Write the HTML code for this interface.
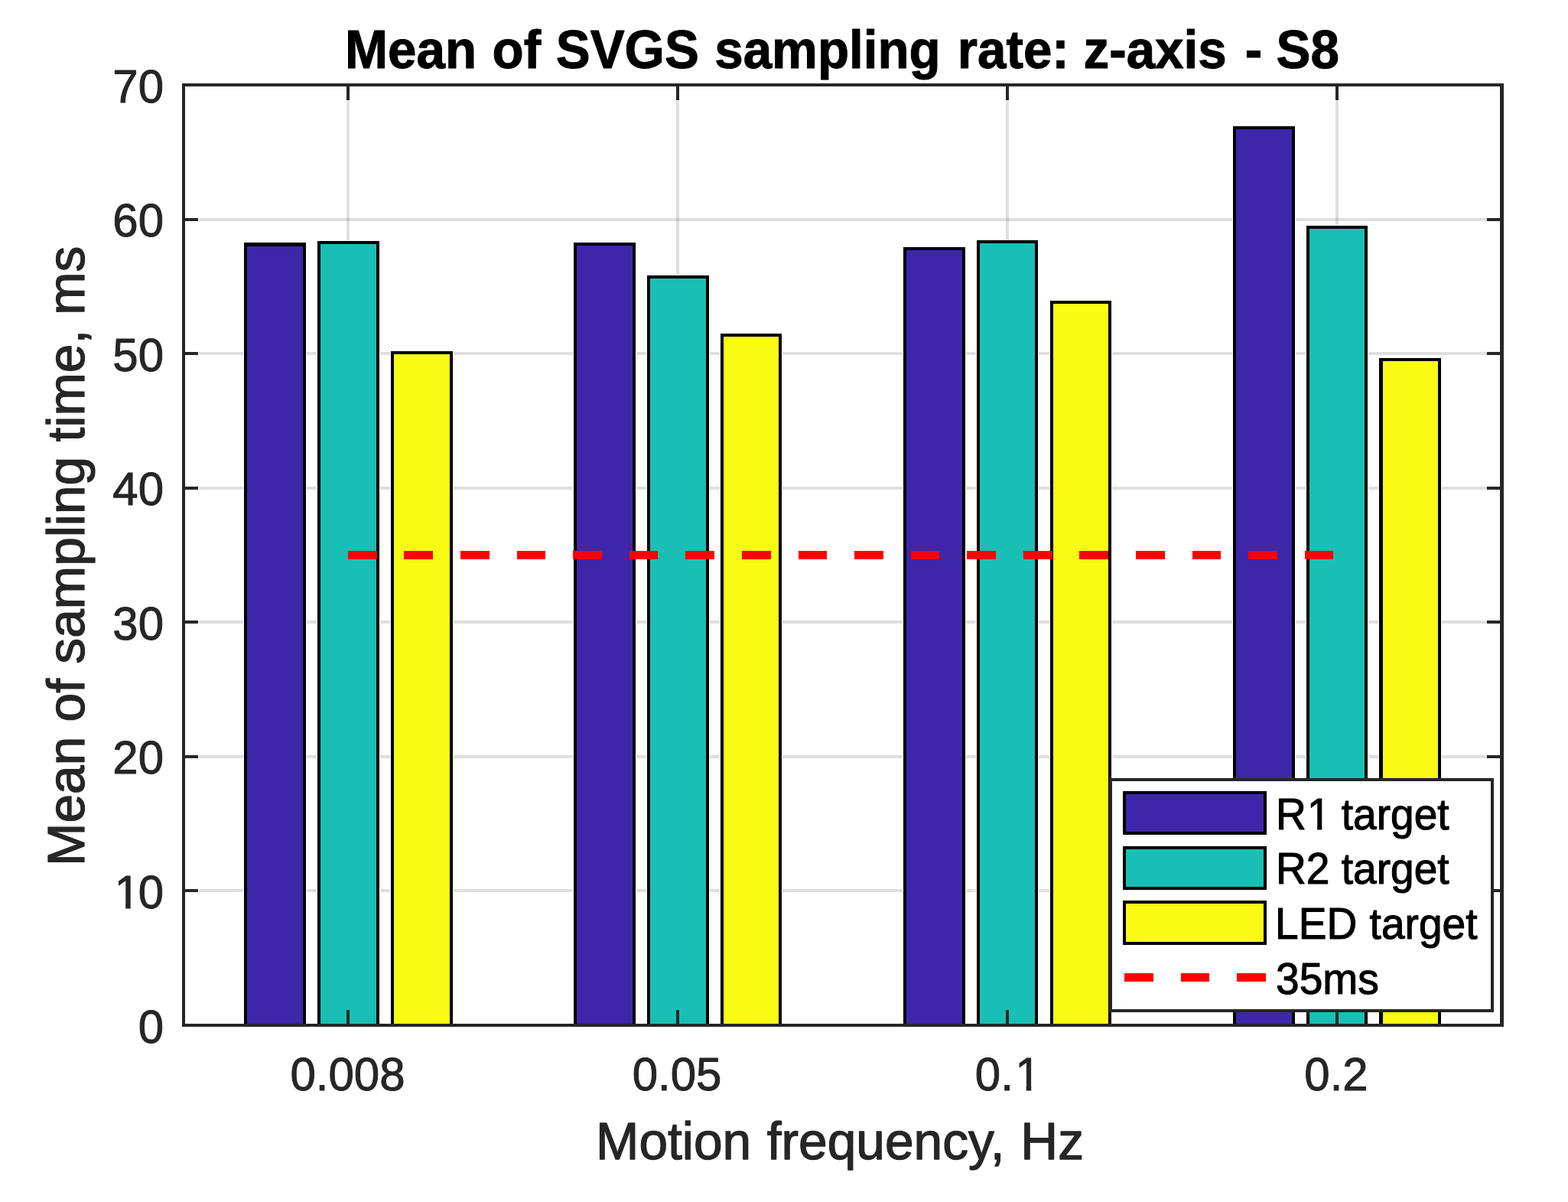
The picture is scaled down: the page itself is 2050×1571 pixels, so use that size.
<!DOCTYPE html>
<html lang="en">
<head>
<meta charset="utf-8">
<title>Mean of SVGS sampling rate: z-axis - S8</title>
<style>
html,body{margin:0;padding:0;background:#fff;}
body{width:2050px;height:1571px;overflow:hidden;}
svg{display:block;}
text{font-family:"Liberation Sans",Arial,Helvetica,sans-serif;stroke-linejoin:round;}
.tk{font-size:61.5px;fill:#262626;stroke:#262626;stroke-width:1.0px;}
.lab{font-size:68.0px;fill:#262626;stroke:#262626;stroke-width:1.3px;}
.ttl{font-size:68.0px;fill:#000000;stroke:#000000;stroke-width:1.0px;font-weight:bold;}
.lg{font-size:55.4px;fill:#000000;stroke:#000000;stroke-width:1.1px;}
</style>
</head>
<body>
<svg width="2050" height="1571" viewBox="0 0 2050 1571">
<defs>
<clipPath id="one0" clipPathUnits="userSpaceOnUse"><path clip-rule="evenodd" d="M-4000 -4000H4000V4000H-4000Z M155.73 -5.44H168.41V2.00H155.73Z M175.04 -5.44H187.24V2.00H175.04Z"/></clipPath>
<clipPath id="one1" clipPathUnits="userSpaceOnUse"><path clip-rule="evenodd" d="M-4000 -4000H4000V4000H-4000Z M1363.45 -5.44H1376.13V2.00H1363.45Z M1382.76 -5.44H1394.96V2.00H1382.76Z"/></clipPath>
<clipPath id="one2" clipPathUnits="userSpaceOnUse"><path clip-rule="evenodd" d="M-4000 -4000H4000V4000H-4000Z M1719.26 -5.04H1730.82V2.05H1719.26Z M1737.02 -5.04H1748.14V2.05H1737.02Z"/></clipPath>
</defs>
<rect x="0" y="0" width="2050" height="1571" fill="#ffffff"/>
<g id="grid" shape-rendering="crispEdges" fill-opacity="0.15">
<rect x="453" y="132" width="4" height="1187" fill="#262626"/>
<rect x="884" y="132" width="4" height="1187" fill="#262626"/>
<rect x="1315" y="132" width="4" height="1187" fill="#262626"/>
<rect x="1746" y="132" width="4" height="1187" fill="#262626"/>
<rect x="260" y="1162" width="1684" height="4" fill="#262626"/>
<rect x="260" y="987" width="1684" height="4" fill="#262626"/>
<rect x="260" y="811" width="1684" height="4" fill="#262626"/>
<rect x="260" y="636" width="1684" height="4" fill="#262626"/>
<rect x="260" y="460" width="1684" height="4" fill="#262626"/>
<rect x="260" y="285" width="1684" height="4" fill="#262626"/>
</g>
<g id="bars" shape-rendering="crispEdges">
<rect x="318" y="316" width="83" height="1022" fill="#ffffff"/>
<rect x="319" y="317" width="81" height="1021" fill="#000000"/>
<rect x="323" y="322" width="73" height="1016" fill="#3E26A8"/>
<rect x="749" y="316" width="83" height="1022" fill="#ffffff"/>
<rect x="750" y="317" width="81" height="1021" fill="#000000"/>
<rect x="754" y="321" width="73" height="1017" fill="#3E26A8"/>
<rect x="1180" y="322" width="83" height="1016" fill="#ffffff"/>
<rect x="1181" y="323" width="81" height="1015" fill="#000000"/>
<rect x="1185" y="327" width="73" height="1011" fill="#3E26A8"/>
<rect x="1611" y="164" width="83" height="1174" fill="#ffffff"/>
<rect x="1612" y="165" width="81" height="1173" fill="#000000"/>
<rect x="1616" y="169" width="73" height="1169" fill="#3E26A8"/>
<rect x="414" y="314" width="83" height="1024" fill="#ffffff"/>
<rect x="415" y="315" width="81" height="1023" fill="#000000"/>
<rect x="419" y="319" width="73" height="1019" fill="#19BFB5"/>
<rect x="845" y="359" width="83" height="979" fill="#ffffff"/>
<rect x="846" y="360" width="81" height="978" fill="#000000"/>
<rect x="850" y="364" width="73" height="974" fill="#19BFB5"/>
<rect x="1276" y="313" width="82" height="1025" fill="#ffffff"/>
<rect x="1277" y="314" width="80" height="1024" fill="#000000"/>
<rect x="1281" y="318" width="72" height="1020" fill="#19BFB5"/>
<rect x="1707" y="294" width="82" height="1044" fill="#ffffff"/>
<rect x="1708" y="295" width="80" height="1043" fill="#000000"/>
<rect x="1712" y="299" width="72" height="1039" fill="#19BFB5"/>
<rect x="510" y="458" width="83" height="880" fill="#ffffff"/>
<rect x="511" y="459" width="81" height="879" fill="#000000"/>
<rect x="515" y="463" width="73" height="875" fill="#F9FB15"/>
<rect x="941" y="435" width="82" height="903" fill="#ffffff"/>
<rect x="942" y="436" width="80" height="902" fill="#000000"/>
<rect x="946" y="440" width="72" height="898" fill="#F9FB15"/>
<rect x="1372" y="392" width="82" height="946" fill="#ffffff"/>
<rect x="1373" y="393" width="80" height="945" fill="#000000"/>
<rect x="1377" y="397" width="72" height="941" fill="#F9FB15"/>
<rect x="1802" y="467" width="83" height="871" fill="#ffffff"/>
<rect x="1803" y="468" width="81" height="870" fill="#000000"/>
<rect x="1808" y="472" width="72" height="866" fill="#F9FB15"/>
</g>
<g id="refline" shape-rendering="crispEdges" fill="#FF0000">
<rect x="455" y="720" width="38" height="11"/>
<rect x="528" y="720" width="38" height="11"/>
<rect x="602" y="720" width="38" height="11"/>
<rect x="676" y="720" width="37" height="11"/>
<rect x="749" y="720" width="38" height="11"/>
<rect x="823" y="720" width="37" height="11"/>
<rect x="896" y="720" width="38" height="11"/>
<rect x="970" y="720" width="38" height="11"/>
<rect x="1044" y="720" width="37" height="11"/>
<rect x="1117" y="720" width="38" height="11"/>
<rect x="1191" y="720" width="37" height="11"/>
<rect x="1264" y="720" width="38" height="11"/>
<rect x="1338" y="720" width="38" height="11"/>
<rect x="1411" y="720" width="38" height="11"/>
<rect x="1485" y="720" width="38" height="11"/>
<rect x="1559" y="720" width="37" height="11"/>
<rect x="1632" y="720" width="38" height="11"/>
<rect x="1706" y="720" width="37" height="11"/>
</g>
<g id="axes" shape-rendering="crispEdges" fill="#262626">
<rect x="453" y="113" width="4" height="18"/>
<rect x="453" y="1320" width="4" height="18"/>
<rect x="884" y="113" width="4" height="18"/>
<rect x="884" y="1320" width="4" height="18"/>
<rect x="1315" y="113" width="4" height="18"/>
<rect x="1315" y="1320" width="4" height="18"/>
<rect x="1746" y="113" width="4" height="18"/>
<rect x="1746" y="1320" width="4" height="18"/>
<rect x="242" y="1162" width="17" height="4"/>
<rect x="1944" y="1162" width="17" height="4"/>
<rect x="242" y="987" width="17" height="4"/>
<rect x="1944" y="987" width="17" height="4"/>
<rect x="242" y="811" width="17" height="4"/>
<rect x="1944" y="811" width="17" height="4"/>
<rect x="242" y="636" width="17" height="4"/>
<rect x="1944" y="636" width="17" height="4"/>
<rect x="242" y="460" width="17" height="4"/>
<rect x="1944" y="460" width="17" height="4"/>
<rect x="242" y="285" width="17" height="4"/>
<rect x="1944" y="285" width="17" height="4"/>
<rect x="238" y="109" width="1728" height="4"/>
<rect x="238" y="1338" width="1728" height="4"/>
<rect x="238" y="109" width="4" height="1233"/>
<rect x="1961" y="109" width="5" height="1233"/>
</g>
<g id="yticks">
<text class="tk" transform="translate(0 1362.50) scale(0.975 0.995)"><tspan x="185.28">0</tspan></text>
<text class="tk" clip-path="url(#one0)" transform="translate(0 1186.93) scale(0.975 0.995)"><tspan x="153.54">1</tspan><tspan x="185.28">0</tspan></text>
<text class="tk" transform="translate(0 1011.36) scale(0.975 0.995)"><tspan x="151.08">20</tspan></text>
<text class="tk" transform="translate(0 835.79) scale(0.975 0.995)"><tspan x="151.08">30</tspan></text>
<text class="tk" transform="translate(0 660.21) scale(0.975 0.995)"><tspan x="151.08">40</tspan></text>
<text class="tk" transform="translate(0 484.64) scale(0.975 0.995)"><tspan x="151.08">50</tspan></text>
<text class="tk" transform="translate(0 309.07) scale(0.975 0.995)"><tspan x="151.08">60</tspan></text>
<text class="tk" transform="translate(0 133.50) scale(0.975 0.995)"><tspan x="151.08">70</tspan></text>
</g>
<g id="xticks">
<text class="tk" transform="translate(0 1425.00) scale(0.975 0.995)"><tspan x="389.20">0.008</tspan></text>
<text class="tk" transform="translate(0 1425.00) scale(0.975 0.995)"><tspan x="847.84">0.05</tspan></text>
<text class="tk" clip-path="url(#one1)" transform="translate(0 1425.00) scale(0.975 0.995)"><tspan x="1307.51">0.</tspan><tspan x="1361.26">1</tspan></text>
<text class="tk" transform="translate(0 1425.00) scale(0.975 0.995)"><tspan x="1749.05">0.2</tspan></text>
</g>
<text class="lab" transform="translate(0 1515.00) scale(0.995 1.0)"><tspan x="783.01">Motion</tspan> <tspan x="1007.73">frequency,</tspan> <tspan x="1341.00">Hz</tspan></text>
<text class="lab" transform="translate(110.00 0) rotate(-90) scale(0.995 1.0)"><tspan x="-1137.59">Mean</tspan> <tspan x="-948.23">of</tspan> <tspan x="-871.99">sampling</tspan> <tspan x="-580.28">time,</tspan> <tspan x="-413.91">ms</tspan></text>
<text class="ttl" transform="translate(0 89.20) scale(0.99 1.03)"><tspan x="455.55">Mean</tspan> <tspan x="650.07">of</tspan> <tspan x="734.10">SVGS</tspan> <tspan x="943.67">sampling</tspan> <tspan x="1264.51">rate:</tspan> <tspan x="1430.91">z-axis</tspan> <tspan x="1644.11">-</tspan> <tspan x="1685.41">S8</tspan></text>
<g id="legend">
<g shape-rendering="crispEdges">
<rect x="1450" y="1017" width="503" height="306" fill="#262626"/>
<rect x="1454" y="1021" width="495" height="298" fill="#ffffff"/>
<rect x="1468" y="1034" width="188" height="57" fill="#000000"/>
<rect x="1472" y="1038" width="180" height="49" fill="#3E26A8"/>
<rect x="1468" y="1106" width="188" height="57" fill="#000000"/>
<rect x="1472" y="1110" width="180" height="49" fill="#19BFB5"/>
<rect x="1468" y="1177" width="188" height="58" fill="#000000"/>
<rect x="1472" y="1181" width="180" height="50" fill="#F9FB15"/>
<rect x="1470" y="1272" width="38" height="11" fill="#FF0000"/>
<rect x="1544" y="1272" width="37" height="11" fill="#FF0000"/>
<rect x="1617" y="1272" width="38" height="11" fill="#FF0000"/>
</g>
<text class="lg" clip-path="url(#one2)" transform="translate(0 1084.00) scale(0.995 1.02)"><tspan x="1676.41">R</tspan><tspan x="1717.54">1</tspan> <tspan x="1762.53">target</tspan></text>
<text class="lg" transform="translate(0 1155.00) scale(0.995 1.02)"><tspan x="1676.41">R2</tspan> <tspan x="1762.53">target</tspan></text>
<text class="lg" transform="translate(0 1227.00) scale(0.995 1.02)"><tspan x="1675.41">LED</tspan> <tspan x="1799.61">target</tspan></text>
<text class="lg" transform="translate(0 1299.00) scale(0.995 1.02)"><tspan x="1676.43">35ms</tspan></text>
</g>
</svg>
</body>
</html>
